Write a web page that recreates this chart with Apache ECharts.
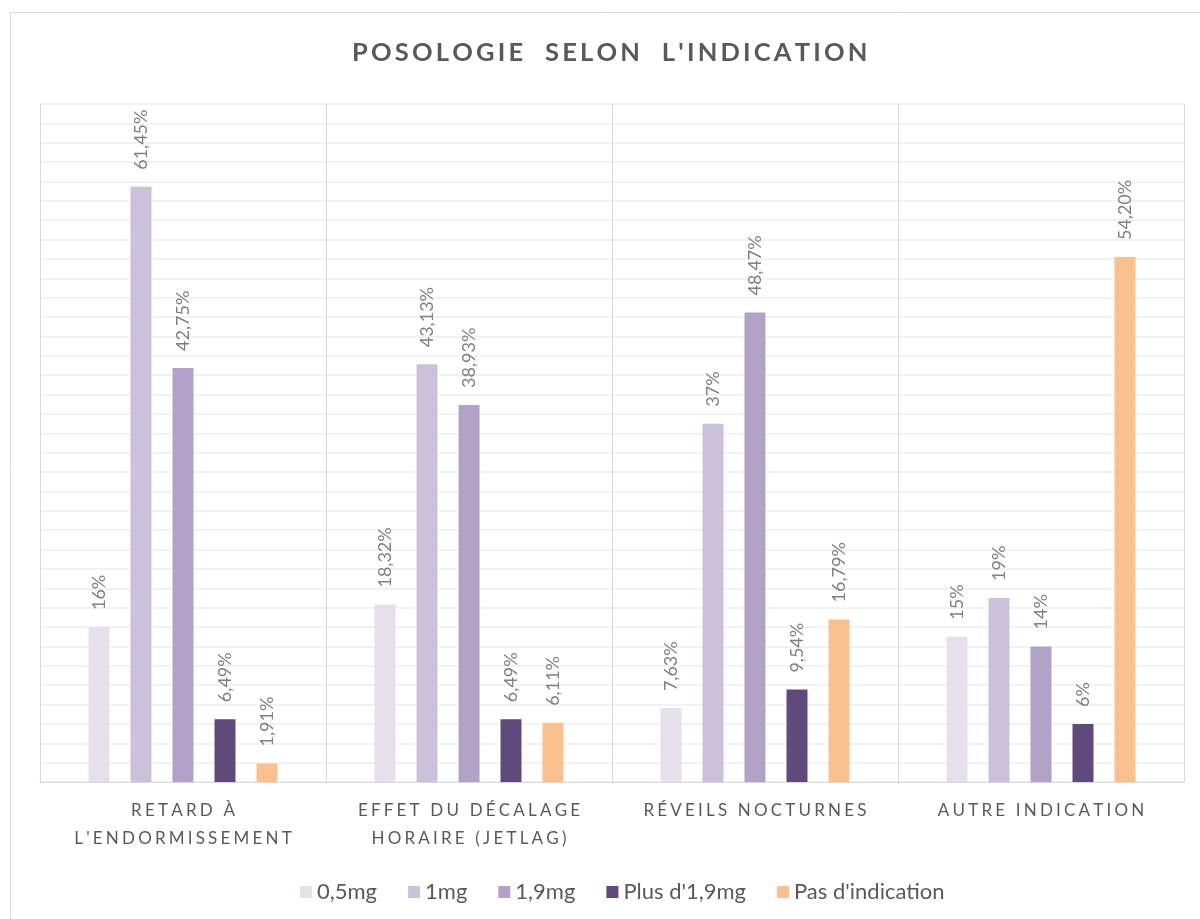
<!DOCTYPE html>
<html>
<head>
<meta charset="utf-8">
<script src="https://cdn.jsdelivr.net/npm/echarts@6/dist/echarts.min.js"></script>
<style>
  html, body { margin: 0; padding: 0; background: #fff; }
  #chart { width: 1200px; height: 919px; }
</style>
</head>
<body>
<div id="chart"></div>
<script>
const categories = ['Retard à\nl\'endormissement', 'Effet du décalage\nhoraire (jetlag)', 'Réveils nocturnes', 'Autre indication'];
const seriesNames = ['0,5mg', '1mg', '1,9mg', 'Plus d\'1,9mg', 'Pas d\'indication'];
const dose05 = [16, 18.32, 7.63, 15];
const dose1 = [61.45, 43.13, 37, 19];
const dose19 = [42.75, 38.93, 48.47, 14];
const dosePlus = [6.49, 6.49, 9.54, 6];
const noIndication = [1.91, 6.11, 16.79, 54.20];
const colors = ['#e5e0ec', '#ccc1da', '#b2a2c7', '#604a7b', '#fac090'];

// fake letter-spacing with thin/hair spaces
const spaced = (s, gap) => s.split('\n').map(l => l.split('').join(gap)).join('\n');

const fmt = (v) => (Number.isInteger(v) ? String(v) : v.toFixed(2).replace('.', ',')) + '%';

const allData = [dose05, dose1, dose19, dosePlus, noIndication];

const chart = echarts.init(document.getElementById('chart'));
const option = {
  animation: false,
  color: colors,
  textStyle: { fontFamily: 'Lato' },
  title: {
    text: spaced('POSOLOGIE  SELON  L\'INDICATION', '\u2009'),
    left: 347,
    top: 35,
    textStyle: { fontSize: 25.5, fontWeight: 'bold', color: '#595959', fontFamily: 'Lato' }
  },
  graphic: [{
    type: 'rect',
    shape: { x: 10.5, y: 12.5, width: 1300, height: 1000 },
    style: { fill: 'none', stroke: '#d9d9d9', lineWidth: 1 },
    z: -1
  }],
  legend: {
    top: 876,
    left: 295,
    itemWidth: 12,
    itemHeight: 12,
    itemGap: 31,
    icon: 'rect',
    textStyle: { fontSize: 22, color: '#595959', fontFamily: 'Lato' },
    data: seriesNames
  },
  grid: { left: 40, right: 16, top: 104, bottom: 137 },
  xAxis: {
    type: 'category',
    data: categories.map(c => spaced(c.toUpperCase(), '\u2009\u200a')),
    axisLine: { lineStyle: { color: '#d9d9d9', width: 1 } },
    axisTick: { show: false },
    splitLine: { show: true, lineStyle: { color: '#d9d9d9', width: 1 } },
    axisLabel: {
      interval: 0,
      margin: 15,
      fontSize: 17,
      lineHeight: 28,
      color: '#595959',
      fontFamily: 'Lato'
    }
  },
  yAxis: {
    type: 'value',
    min: 0,
    max: 70,
    interval: 2,
    axisLabel: { show: false },
    axisLine: { show: false },
    axisTick: { show: false },
    splitLine: { lineStyle: { color: '#eeeeee', width: 1.5 } }
  },
  series: seriesNames.map((name, i) => ({
    name: name,
    type: 'bar',
    data: allData[i],
    barWidth: 21,
    barGap: '100%',
    itemStyle: { color: colors[i] },
    label: {
      show: true,
      position: 'top',
      rotate: 90,
      align: 'left',
      verticalAlign: 'middle',
      distance: 17,
      fontSize: 18,
      color: '#808080',
      fontFamily: 'Lato',
      formatter: (p) => fmt(p.value)
    }
  }))
};
chart.setOption(option);
</script>
</body>
</html>
